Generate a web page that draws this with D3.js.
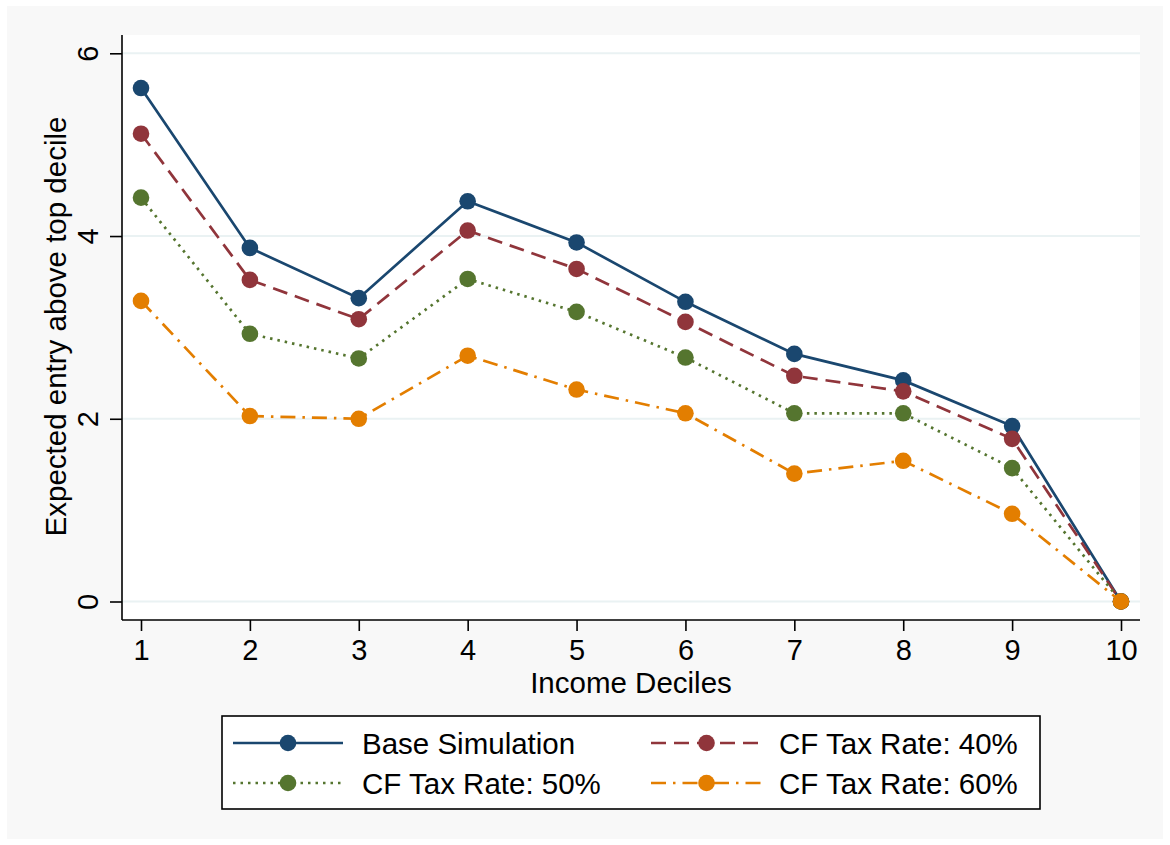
<!DOCTYPE html>
<html>
<head>
<meta charset="utf-8">
<script src="https://cdn.jsdelivr.net/npm/d3@7"></script>
<style>
  html, body { margin: 0; padding: 0; background: #ffffff; }
  svg { display: block; font-family: "Liberation Sans", Arial, Helvetica, sans-serif; }
</style>
</head>
<body>
<svg id="chart" width="1170" height="845"></svg>
<script>
// Income deciles on the x axis
const deciles = [1, 2, 3, 4, 5, 6, 7, 8, 9, 10];

// Expected entry above top decile, by simulation
const baseSimulation = [5.62, 3.87, 3.32, 4.38, 3.93, 3.28, 2.71, 2.42, 1.92, 0];
const taxRate40 = [5.12, 3.52, 3.09, 4.06, 3.64, 3.06, 2.47, 2.30, 1.78, 0];
const taxRate50 = [4.42, 2.93, 2.66, 3.53, 3.17, 2.67, 2.06, 2.06, 1.46, 0];
const taxRate60 = [3.29, 2.03, 2.00, 2.69, 2.32, 2.06, 1.40, 1.54, 0.96, 0];

const yTicks = [0, 2, 4, 6];
const seriesNames = ["Base Simulation", "CF Tax Rate: 40%", "CF Tax Rate: 50%", "CF Tax Rate: 60%"];

const series = [
  { name: seriesNames[0], values: baseSimulation, color: "#1a476f", dash: null },
  { name: seriesNames[1], values: taxRate40, color: "#90353b", dash: "15,8" },
  { name: seriesNames[2], values: taxRate50, color: "#55752f", dash: "2.5,5" },
  { name: seriesNames[3], values: taxRate60, color: "#e37e00", dash: "15,7,2.5,7" }
];

const svg = d3.select("#chart");

// Outer graph region
svg.append("rect")
  .attr("x", 7).attr("y", 6).attr("width", 1156).attr("height", 833)
  .attr("fill", "#f8f8f8");

// Plot region
const plot = { left: 122, right: 1140, top: 35, bottom: 620 };
svg.append("rect")
  .attr("x", plot.left).attr("y", plot.top)
  .attr("width", plot.right - plot.left).attr("height", plot.bottom - plot.top)
  .attr("fill", "#ffffff");

const x = d3.scaleLinear().domain([1, 10]).range([141, 1121]);
const y = d3.scaleLinear().domain([0, 6]).range([601.5, 53.3]);

// Horizontal gridlines
svg.append("g").selectAll("line").data(yTicks).join("line")
  .attr("x1", plot.left).attr("x2", plot.right)
  .attr("y1", d => y(d)).attr("y2", d => y(d))
  .attr("stroke", "#eaf2f3").attr("stroke-width", 2);

// Y axis
const yAxis = svg.append("g")
  .attr("transform", `translate(${plot.left},0)`)
  .call(d3.axisLeft(y).tickValues(yTicks).tickFormat(d3.format("d")).tickSize(12).tickPadding(0));
yAxis.select(".domain").remove();
yAxis.append("line")
  .attr("x1", 0).attr("x2", 0).attr("y1", plot.top).attr("y2", plot.bottom)
  .attr("stroke", "#000").attr("stroke-width", 1.6);
yAxis.selectAll(".tick line").attr("stroke", "#000").attr("stroke-width", 1.6);
yAxis.selectAll(".tick text")
  .attr("x", null).attr("dy", null)
  .attr("transform", "translate(-24,0) rotate(-90)")
  .attr("text-anchor", "middle")
  .attr("fill", "#000")
  .style("font-size", "29px");

// X axis
const xAxis = svg.append("g")
  .attr("transform", `translate(0,${plot.bottom})`)
  .call(d3.axisBottom(x).tickValues(deciles).tickFormat(d3.format("d")).tickSize(11).tickPadding(0));
xAxis.select(".domain").remove();
xAxis.append("line")
  .attr("x1", plot.left).attr("x2", plot.right).attr("y1", 0).attr("y2", 0)
  .attr("stroke", "#000").attr("stroke-width", 1.6);
xAxis.selectAll(".tick line").attr("stroke", "#000").attr("stroke-width", 1.6);
xAxis.selectAll(".tick text")
  .attr("y", 40).attr("dy", null)
  .attr("fill", "#000")
  .style("font-size", "29px");

// Axis titles
svg.append("text")
  .attr("x", (plot.left + plot.right) / 2).attr("y", 693)
  .attr("text-anchor", "middle")
  .style("font-size", "29.5px")
  .text("Income Deciles");

svg.append("text")
  .attr("transform", `translate(66,${(plot.top + plot.bottom) / 2 - 1}) rotate(-90)`)
  .attr("text-anchor", "middle")
  .style("font-size", "29.5px")
  .text("Expected entry above top decile");

// Series lines and markers
const line = d3.line().x((d, i) => x(deciles[i])).y(d => y(d));

const seriesG = svg.append("g").selectAll("g").data(series).join("g");
seriesG.append("path")
  .attr("d", d => line(d.values))
  .attr("fill", "none")
  .attr("stroke", d => d.color)
  .attr("stroke-width", 2.7)
  .attr("stroke-dasharray", d => d.dash);
seriesG.selectAll("circle")
  .data(d => d.values.map((v, i) => ({ v, i, color: d.color })))
  .join("circle")
  .attr("cx", d => x(deciles[d.i]))
  .attr("cy", d => y(d.v))
  .attr("r", 8.3)
  .attr("fill", d => d.color);

// Legend
const legend = svg.append("g");
legend.append("rect")
  .attr("x", 222).attr("y", 716).attr("width", 818).attr("height", 93)
  .attr("fill", "#ffffff").attr("stroke", "#000").attr("stroke-width", 1.6);

const legendPos = [
  { lx1: 233, lx2: 343, tx: 362, cy: 743 },
  { lx1: 651, lx2: 762, tx: 779, cy: 743 },
  { lx1: 233, lx2: 343, tx: 362, cy: 783 },
  { lx1: 651, lx2: 762, tx: 779, cy: 783 }
];

const items = legend.selectAll("g.item").data(series).join("g").attr("class", "item");
items.append("line")
  .attr("x1", (d, i) => legendPos[i].lx1).attr("x2", (d, i) => legendPos[i].lx2)
  .attr("y1", (d, i) => legendPos[i].cy).attr("y2", (d, i) => legendPos[i].cy)
  .attr("stroke", d => d.color).attr("stroke-width", 2.7)
  .attr("stroke-dasharray", d => d.dash);
items.append("circle")
  .attr("cx", (d, i) => (legendPos[i].lx1 + legendPos[i].lx2) / 2)
  .attr("cy", (d, i) => legendPos[i].cy)
  .attr("r", 8.3)
  .attr("fill", d => d.color);
items.append("text")
  .attr("x", (d, i) => legendPos[i].tx)
  .attr("y", (d, i) => legendPos[i].cy + 10.5)
  .style("font-size", "29.5px")
  .attr("fill", "#000")
  .text(d => d.name);
</script>
</body>
</html>
